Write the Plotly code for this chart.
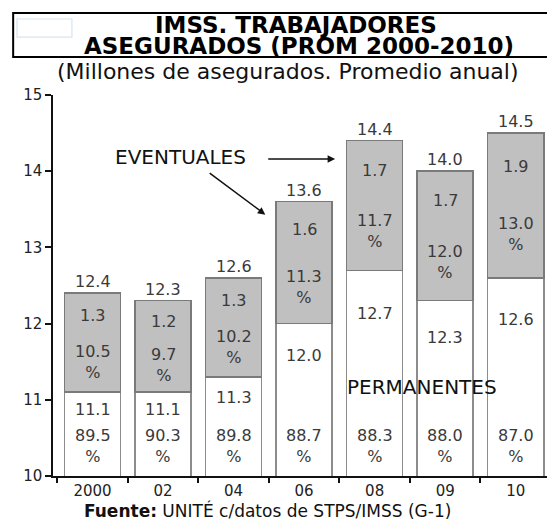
import plotly.graph_objects as go

# ---- data ----
years = ["2000", "02", "04", "06", "08", "09", "10"]
permanentes = [11.1, 11.1, 11.3, 12.0, 12.7, 12.3, 12.6]
eventuales = [1.3, 1.2, 1.3, 1.6, 1.7, 1.7, 1.9]
totales = [12.4, 12.3, 12.6, 13.6, 14.4, 14.0, 14.5]
pct_perm = [89.5, 90.3, 89.8, 88.7, 88.3, 88.0, 87.0]
pct_event = [10.5, 9.7, 10.2, 11.3, 11.7, 12.0, 13.0]
y_ticks = [10, 11, 12, 13, 14, 15]

FONT = "DejaVu Sans"
LBL = "#3a3a3a"
Y0 = 10

fig = go.Figure()
fig.add_bar(x=years, y=permanentes, name="Permanentes",
            marker=dict(color="white", line=dict(color="#8c8c8c", width=1.5)))
fig.add_bar(x=years, y=eventuales, name="Eventuales",
            marker=dict(color="#c0c0c0", line=dict(color="#7a7a7a", width=1.5)))

ann = []
for i, yr in enumerate(years):
    p, e, t = permanentes[i], eventuales[i], totales[i]
    # total above bar
    ann.append(dict(x=i, y=t, text=f"{t:.1f}", showarrow=False, yanchor="bottom", yshift=0,
                    font=dict(family=FONT, size=16, color=LBL)))
    # eventuales value and pct
    seg = t - p
    ann.append(dict(x=i, y=t - 0.23 * seg, text=f"{e:.1f}", showarrow=False,
                    font=dict(family=FONT, size=16, color=LBL)))
    ann.append(dict(x=i, y=t - 0.70 * seg, text=f"{pct_event[i]:.1f}<br>%", showarrow=False,
                    font=dict(family=FONT, size=16, color=LBL)))
    # permanentes value and pct
    segp = p - Y0
    ann.append(dict(x=i, y=p - 0.21 * segp, text=f"{p:.1f}", showarrow=False,
                    font=dict(family=FONT, size=16, color=LBL)))
    ann.append(dict(x=i, y=Y0, yshift=30, text=f"{pct_perm[i]:.1f}<br>%", showarrow=False,
                    font=dict(family=FONT, size=16, color=LBL)))

# labels and arrows
ann.append(dict(x=1.25, y=14.19, text="EVENTUALES", showarrow=False,
                font=dict(family=FONT, size=20, color="#111")))
ann.append(dict(x=3.44, y=14.16, ax=2.47, ay=14.16, axref="x", ayref="y", text="",
                showarrow=True, arrowhead=2, arrowsize=1, arrowwidth=1.5, arrowcolor="#111"))
ann.append(dict(x=2.45, y=13.43, ax=1.64, ay=13.99, axref="x", ayref="y", text="",
                showarrow=True, arrowhead=2, arrowsize=1, arrowwidth=1.5, arrowcolor="#111"))
ann.append(dict(x=4.67, y=11.17, text="PERMANENTES", showarrow=False,
                font=dict(family=FONT, size=20, color="#111")))

# titles (paper refs: explicit anchors)
def pann(x, y, text, size, color="#000"):
    return dict(xref="paper", yref="paper", x=x, y=y, text=text, showarrow=False,
                xanchor="center", yanchor="middle",
                font=dict(family=FONT, size=size, color=color))

ann.append(pann(0.488, 1.1837, "<b>IMSS. TRABAJADORES</b>", 23))
ann.append(pann(0.493, 1.1299, "<b>ASEGURADOS (PROM 2000-2010)</b>", 23))
ann.append(pann(0.472, 1.0604, "(Millones de asegurados. Promedio anual)", 22, "#111"))
ann.append(pann(0.43, -0.0893, "<b>Fuente:</b> UNITÉ c/datos de STPS/IMSS (G-1)", 17, "#111"))

shapes = [
    dict(type="rect", xref="paper", yref="paper", x0=-0.080, x1=1.02, y0=1.0997, y1=1.215,
         line=dict(color="#000", width=2), fillcolor="rgba(0,0,0,0)"),
    dict(type="rect", xref="paper", yref="paper", x0=-0.0723, x1=0.038, y0=1.152, y1=1.1995,
         line=dict(color="#d3e6ef", width=1.2), fillcolor="rgba(0,0,0,0)"),
]

# page has an 8px default body margin: size the figure to fit the 555x522 window
fig.update_layout(
    width=547, height=514,
    margin=dict(l=45, r=4, t=87, b=46),
    barmode="stack", bargap=0.205,
    showlegend=False,
    plot_bgcolor="white", paper_bgcolor="white",
    annotations=ann, shapes=shapes,
    font=dict(family=FONT, color="#222"),
)
fig.update_xaxes(type="category", range=[-0.56, 6.5], tickson="boundaries",
                 ticks="outside", ticklen=5, tickwidth=1.5, tickcolor="#111",
                 showline=True, linecolor="#111", linewidth=1.5, showgrid=False,
                 tickfont=dict(family=FONT, size=15, color="#222"))
fig.update_yaxes(range=[10, 15], tickvals=y_ticks, ticks="outside", ticklen=6, tickwidth=1.5,
                 tickcolor="#111", showline=True, linecolor="#111", linewidth=1.5,
                 showgrid=False, zeroline=False,
                 tickfont=dict(family=FONT, size=15, color="#222"))

fig.write_html("out.html")
